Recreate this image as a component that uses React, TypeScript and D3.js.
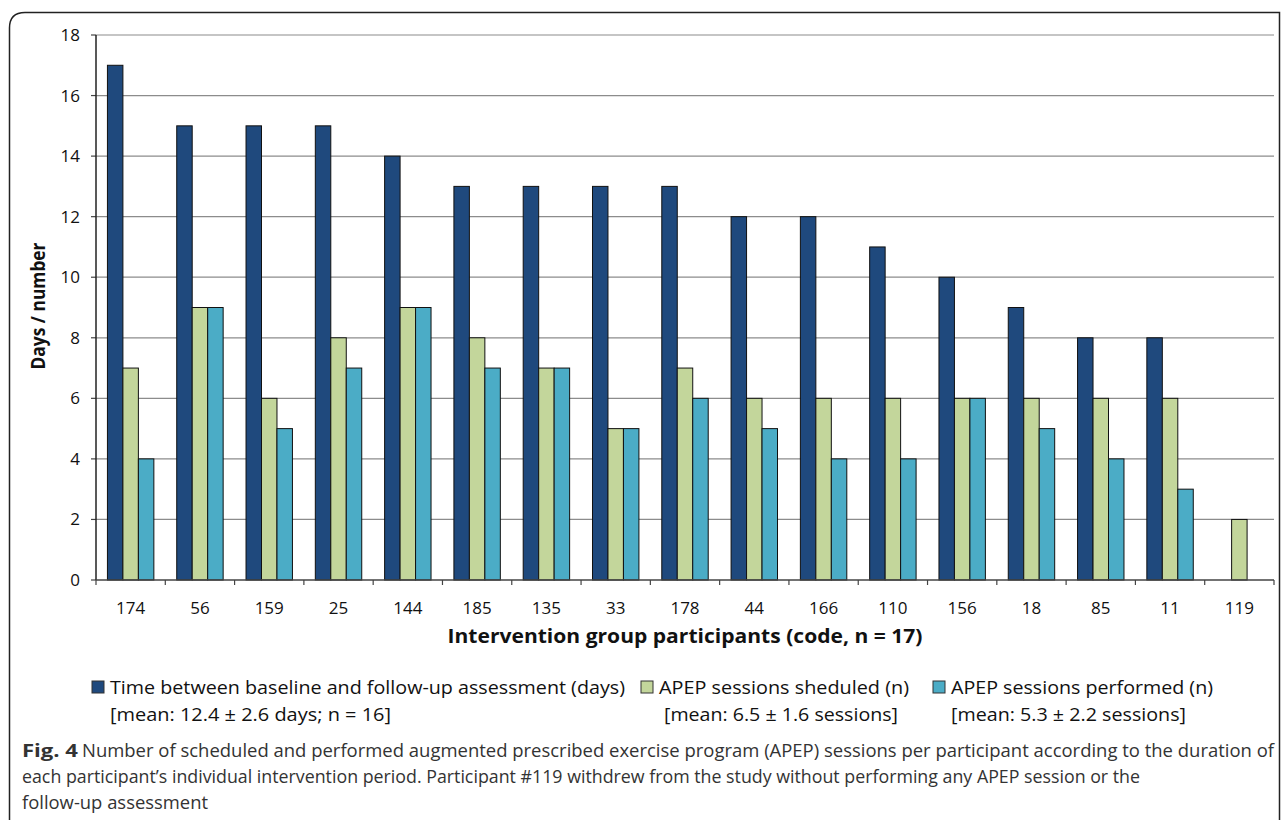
import React from "react";
import * as d3 from "d3";

const categories = ["174","56","159","25","144","185","135","33","178","44","166","110","156","18","85","11","119"];
const timeDays: (number|null)[] = [17,15,15,15,14,13,13,13,13,12,12,11,10,9,8,8,null];
const scheduled: (number|null)[] = [7,9,6,8,9,8,7,5,7,6,6,6,6,6,6,6,2];
const performed: (number|null)[] = [4,9,5,7,9,7,7,5,6,5,4,4,6,5,4,3,null];
const seriesNames = ["time","scheduled","performed"];
const seriesColors = ["#1F497D","#C3D69B","#4BACC6"];
const yTicks = [0,2,4,6,8,10,12,14,16,18];

const FONT = "'Open Sans', 'Noto Sans', sans-serif";

export default function App() {
  const W = 1281, H = 820;
  const left = 96, right = 1274, top = 35, bottom = 580;
  const x0 = d3.scaleBand<string>().domain(categories).range([left, right]).paddingInner(0).paddingOuter(0);
  const bw = x0.bandwidth();
  const groupW = bw * 0.67;
  const x1 = d3.scaleBand<string>().domain(seriesNames).range([0, groupW]);
  const y = d3.scaleLinear().domain([0, 18]).range([bottom, top]);
  const allSeries = [timeDays, scheduled, performed];

  const legend = [
    { sx: 92, tx: 110, l1: "Time between baseline and follow-up assessment (days)", l1w: 515, l2x: 110, l2: "[mean: 12.4 ± 2.6 days; n = 16]", l2w: 281 },
    { sx: 641, tx: 659, l1: "APEP sessions sheduled (n)", l1w: 250, l2x: 664, l2: "[mean: 6.5 ± 1.6 sessions]", l2w: 234 },
    { sx: 933, tx: 951, l1: "APEP sessions performed (n)", l1w: 262, l2x: 951, l2: "[mean: 5.3 ± 2.2 sessions]", l2w: 235 },
  ];

  return (
    <svg width={W} height={H} style={{ position: "absolute", left: 0, top: 0, background: "#fff" }} fontFamily={FONT}>
      <rect x={0} y={0} width={W} height={H} fill="#fff" />
      {/* frame */}
      <path d={`M9.5,${H + 5} L9.5,28 Q9.5,12.5 25,12.5 L1279.5,12.5 L1279.5,${H + 5}`} fill="none" stroke="#222" strokeWidth={1.5} />
      {/* gridlines */}
      {yTicks.map(t => (
        <g key={t}>
          {t > 0 && <line x1={left} x2={right} y1={y(t)} y2={y(t)} stroke="#8c8c8c" strokeWidth={1.2} />}
          <line x1={left - 5} x2={left} y1={y(t)} y2={y(t)} stroke="#444" strokeWidth={1.2} />
          <text x={80} y={y(t)} dy="0.35em" textAnchor="end" fontSize={17} fill="#111">{t}</text>
        </g>
      ))}
      {/* bars */}
      {categories.map((c, i) => (
        <g key={c}>
          {allSeries.map((s, j) => {
            const v = s[i];
            if (v == null) return null;
            const bx = (x0(c) as number) + (bw - groupW) / 2 + (x1(seriesNames[j]) as number);
            return <rect key={j} x={bx} y={y(v)} width={x1.bandwidth()} height={y(0) - y(v)} fill={seriesColors[j]} stroke="#111" strokeWidth={1} />;
          })}
          <text x={(x0(c) as number) + bw / 2} y={614} textAnchor="middle" fontSize={17} fill="#111">{c}</text>
        </g>
      ))}
      {/* axes */}
      <line x1={left} x2={left} y1={top} y2={bottom} stroke="#222" strokeWidth={1.5} />
      <line x1={left} x2={right} y1={bottom} y2={bottom} stroke="#444" strokeWidth={1.5} />
      {[...categories.map(c => x0(c) as number), right].map((tx, k) => (
        <line key={k} x1={tx} x2={tx} y1={bottom} y2={bottom + 5} stroke="#444" strokeWidth={1.2} />
      ))}
      {/* axis titles */}
      <text x={685} y={643} textAnchor="middle" fontSize={20} fontWeight="bold" fill="#111" textLength={475} lengthAdjust="spacingAndGlyphs">Intervention group participants (code, n = 17)</text>
      <text transform="translate(45,306) rotate(-90)" textAnchor="middle" fontSize={20} fontWeight="bold" fill="#111" textLength={127} lengthAdjust="spacingAndGlyphs">Days / number</text>
      {/* legend */}
      {legend.map((l, k) => (
        <g key={k}>
          <rect x={l.sx} y={681} width={12} height={12} fill={seriesColors[k]} stroke="#333" strokeWidth={1} />
          <text x={l.tx} y={694} fontSize={19} fill="#111" textLength={l.l1w} lengthAdjust="spacingAndGlyphs">{l.l1}</text>
          <text x={l.l2x} y={721} fontSize={19} fill="#111" textLength={l.l2w} lengthAdjust="spacingAndGlyphs">{l.l2}</text>
        </g>
      ))}
      {/* caption */}
      <text x={22} y={757} fontSize={18} fill="#333" fontWeight="bold" textLength={56} lengthAdjust="spacingAndGlyphs">Fig. 4</text>
      <text x={82} y={757} fontSize={18} fill="#333" textLength={1192} lengthAdjust="spacingAndGlyphs">Number of scheduled and performed augmented prescribed exercise program (APEP) sessions per participant according to the duration of</text>
      <text x={22} y={783} fontSize={18} fill="#333" textLength={1118} lengthAdjust="spacingAndGlyphs">each participant’s individual intervention period. Participant #119 withdrew from the study without performing any APEP session or the</text>
      <text x={22} y={809} fontSize={18} fill="#333" textLength={186} lengthAdjust="spacingAndGlyphs">follow-up assessment</text>
    </svg>
  );
}
